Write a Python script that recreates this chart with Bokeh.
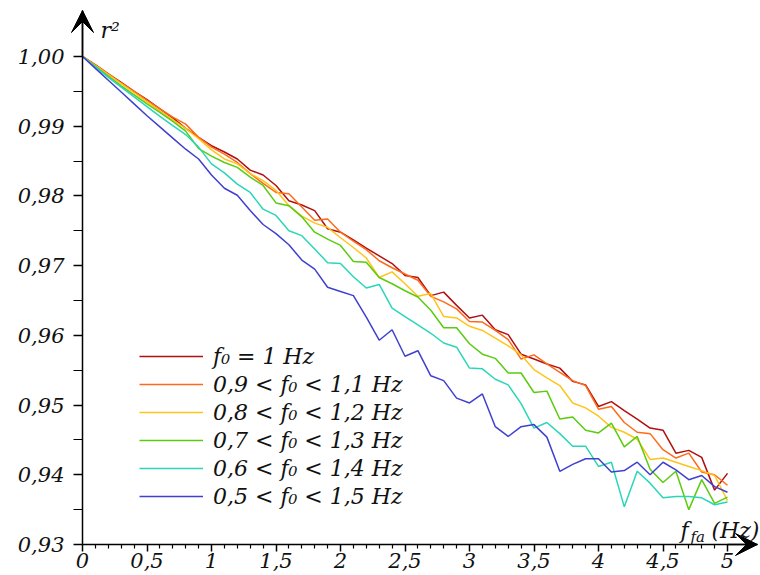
from bokeh.plotting import figure
from bokeh.models import (LinearAxis, FixedTicker, CustomJSTickFormatter, Arrow, VeeHead,
                          Label, Legend, LegendItem, Range1d)
from bokeh.embed import file_html
from bokeh.resources import INLINE

# ---------------- data ----------------
f_fa = [0.0, 0.1, 0.2, 0.3, 0.4, 0.5, 0.6, 0.7, 0.8, 0.9,
        1.0, 1.1, 1.2, 1.3, 1.4, 1.5, 1.6, 1.7, 1.8, 1.9,
        2.0, 2.1, 2.2, 2.3, 2.4, 2.5, 2.6, 2.7, 2.8, 2.9,
        3.0, 3.1, 3.2, 3.3, 3.4, 3.5, 3.6, 3.7, 3.8, 3.9,
        4.0, 4.1, 4.2, 4.3, 4.4, 4.5, 4.6, 4.7, 4.8, 4.9, 5.0]

r2_f1 = [1.0000, 0.9988, 0.9975, 0.9963, 0.9950, 0.9938, 0.9925, 0.9912, 0.9897, 0.9884,
         0.9872, 0.9863, 0.9853, 0.9837, 0.9830, 0.9815, 0.9793, 0.9787, 0.9779, 0.9753,
         0.9748, 0.9737, 0.9725, 0.9714, 0.9703, 0.9686, 0.9683, 0.9657, 0.9662, 0.9643,
         0.9625, 0.9629, 0.9608, 0.9601, 0.9573, 0.9566, 0.9559, 0.9553, 0.9534, 0.9529,
         0.9498, 0.9505, 0.9492, 0.9480, 0.9467, 0.9464, 0.9431, 0.9435, 0.9425, 0.9378, 0.9402]

r2_09_11 = [1.0000, 0.9988, 0.9975, 0.9962, 0.9950, 0.9937, 0.9925, 0.9913, 0.9903, 0.9884,
            0.9870, 0.9860, 0.9848, 0.9832, 0.9818, 0.9805, 0.9803, 0.9784, 0.9765, 0.9767,
            0.9748, 0.9735, 0.9723, 0.9707, 0.9697, 0.9688, 0.9679, 0.9656, 0.9648, 0.9638,
            0.9620, 0.9619, 0.9607, 0.9594, 0.9566, 0.9572, 0.9559, 0.9547, 0.9535, 0.9528,
            0.9494, 0.9498, 0.9475, 0.9461, 0.9459, 0.9436, 0.9424, 0.9431, 0.9404, 0.9400, 0.9385]

r2_08_12 = [1.0000, 0.9987, 0.9974, 0.9961, 0.9948, 0.9935, 0.9922, 0.9909, 0.9897, 0.9882,
            0.9866, 0.9853, 0.9846, 0.9832, 0.9822, 0.9808, 0.9786, 0.9771, 0.9761, 0.9755,
            0.9740, 0.9726, 0.9711, 0.9683, 0.9691, 0.9674, 0.9656, 0.9660, 0.9627, 0.9625,
            0.9613, 0.9607, 0.9596, 0.9585, 0.9572, 0.9551, 0.9539, 0.9528, 0.9503, 0.9496,
            0.9484, 0.9468, 0.9461, 0.9451, 0.9422, 0.9424, 0.9418, 0.9412, 0.9406, 0.9399, 0.9363]

r2_07_13 = [1.0000, 0.9986, 0.9972, 0.9958, 0.9945, 0.9932, 0.9920, 0.9907, 0.9893, 0.9868,
            0.9857, 0.9848, 0.9841, 0.9827, 0.9815, 0.9790, 0.9786, 0.9770, 0.9748, 0.9738,
            0.9729, 0.9706, 0.9705, 0.9683, 0.9674, 0.9664, 0.9655, 0.9636, 0.9611, 0.9611,
            0.9588, 0.9573, 0.9567, 0.9546, 0.9546, 0.9518, 0.9520, 0.9480, 0.9483, 0.9464,
            0.9460, 0.9474, 0.9440, 0.9455, 0.9408, 0.9389, 0.9405, 0.9350, 0.9393, 0.9359, 0.9368]

r2_06_14 = [1.0000, 0.9985, 0.9970, 0.9956, 0.9942, 0.9928, 0.9914, 0.9901, 0.9888, 0.9870,
            0.9846, 0.9833, 0.9817, 0.9805, 0.9781, 0.9772, 0.9750, 0.9743, 0.9724, 0.9704,
            0.9703, 0.9684, 0.9668, 0.9673, 0.9639, 0.9627, 0.9615, 0.9603, 0.9589, 0.9583,
            0.9553, 0.9552, 0.9537, 0.9529, 0.9502, 0.9467, 0.9475, 0.9459, 0.9441, 0.9441,
            0.9412, 0.9418, 0.9354, 0.9405, 0.9388, 0.9367, 0.9369, 0.9369, 0.9367, 0.9357, 0.9361]

r2_05_15 = [1.0000, 0.9983, 0.9966, 0.9949, 0.9932, 0.9915, 0.9899, 0.9883, 0.9867, 0.9853,
            0.9830, 0.9811, 0.9801, 0.9779, 0.9759, 0.9746, 0.9730, 0.9708, 0.9695, 0.9669,
            0.9663, 0.9657, 0.9626, 0.9593, 0.9608, 0.9570, 0.9578, 0.9542, 0.9535, 0.9510,
            0.9503, 0.9516, 0.9469, 0.9455, 0.9469, 0.9472, 0.9454, 0.9405, 0.9415, 0.9423,
            0.9423, 0.9404, 0.9406, 0.9418, 0.9400, 0.9418, 0.9407, 0.9393, 0.9399, 0.9383, 0.9375]

series_labels = ["f\u2080 = 1 Hz",
                 "0,9 < f\u2080 < 1,1 Hz",
                 "0,8 < f\u2080 < 1,2 Hz",
                 "0,7 < f\u2080 < 1,3 Hz",
                 "0,6 < f\u2080 < 1,4 Hz",
                 "0,5 < f\u2080 < 1,5 Hz"]
series_values = [r2_f1, r2_09_11, r2_08_12, r2_07_13, r2_06_14, r2_05_15]
series_colors = ["#b01010", "#ff6a1a", "#ffc41a", "#5acc10", "#2ad6b8", "#4040d0"]

y_ticks = [0.93, 0.94, 0.95, 0.96, 0.97, 0.98, 0.99, 1.00]
y_minor = [0.935, 0.945, 0.955, 0.965, 0.975, 0.985, 0.995]
x_ticks = [0.0, 0.5, 1.0, 1.5, 2.0, 2.5, 3.0, 3.5, 4.0, 4.5, 5.0]
x_minor = [v for v in f_fa if v not in x_ticks]

# ---------------- geometry (canvas pixels) ----------------
W, H = 760, 575
X0_PX = 82          # canvas x of f_fa = 0
PX_PER_X = 129.0
Y1_PX = 56          # canvas y of r2 = 1.00
PX_PER_Y = 6971.4


def dx(px):
    return (px - X0_PX) / PX_PER_X


def dy(py):
    return 1.0 + (Y1_PX - py) / PX_PER_Y


FONT = "DejaVu Serif"

p = figure(width=W, height=H,
           x_range=Range1d(dx(0), dx(W)), y_range=Range1d(dy(H), dy(0)),
           output_backend="svg", toolbar_location=None,
           x_axis_location=None, y_axis_location=None,
           min_border=0, outline_line_color=None,
           background_fill_color="white", border_fill_color="white")
p.xgrid.visible = False
p.ygrid.visible = False

renderers = []
for vals, col in zip(series_values, series_colors):
    r = p.line(f_fa, vals, line_color=col, line_width=1.5)
    renderers.append(r)

x_tip = dx(757)
y_tip = dy(10)

# axes
yaxis = LinearAxis(fixed_location=0.0, bounds=(y_ticks[0], y_tip),
                   ticker=FixedTicker(ticks=y_ticks, minor_ticks=y_minor),
                   formatter=CustomJSTickFormatter(code="return tick.toFixed(2).replace('.', ',')"))
yaxis.major_tick_out = 9
yaxis.major_tick_in = 0
yaxis.minor_tick_out = 9
yaxis.minor_tick_in = 0
yaxis.major_label_standoff = 9
p.add_layout(yaxis, "left")

xaxis = LinearAxis(fixed_location=y_ticks[0], bounds=(0.0, x_tip),
                   ticker=FixedTicker(ticks=x_ticks, minor_ticks=x_minor),
                   formatter=CustomJSTickFormatter(
                       code="return (Math.abs(tick - Math.round(tick)) < 1e-9) ? tick.toFixed(0) : tick.toFixed(1).replace('.', ',')"))
xaxis.major_tick_out = 7
xaxis.major_tick_in = 0
xaxis.minor_tick_out = 4
xaxis.minor_tick_in = 0
xaxis.major_label_standoff = 2
p.add_layout(xaxis, "below")

for ax in (xaxis, yaxis):
    ax.axis_line_color = "black"
    ax.axis_line_width = 1.5
    ax.major_tick_line_color = "black"
    ax.major_tick_line_width = 1.5
    ax.minor_tick_line_color = "black"
    ax.minor_tick_line_width = 1.2
    ax.major_label_text_font = FONT
    ax.major_label_text_font_style = "italic"
    ax.major_label_text_font_size = "21px"
    ax.major_label_text_color = "#111111"

# arrow heads on axes
p.add_layout(Arrow(end=VeeHead(size=22, fill_color="black", line_color="black", line_width=1),
                   x_start=0.0, y_start=y_ticks[-1], x_end=0.0, y_end=y_tip,
                   line_color="black", line_width=1.5))
p.add_layout(Arrow(end=VeeHead(size=22, fill_color="black", line_color="black", line_width=1),
                   x_start=x_ticks[-1], y_start=y_ticks[0], x_end=x_tip, y_end=y_ticks[0],
                   line_color="black", line_width=1.5))

# axis titles
p.add_layout(Label(x=dx(100), y=dy(30), text="r\u00b2", text_font=FONT, text_font_style="italic",
                   text_font_size="22px", text_color="#111111", text_baseline="alphabetic"))
p.add_layout(Label(x=dx(680), y=dy(530), text="f", text_font=FONT, text_font_style="italic",
                   text_font_size="22px", text_color="#111111", text_baseline="alphabetic"))
p.add_layout(Label(x=dx(690), y=dy(536), text="fa", text_font=FONT, text_font_style="italic",
                   text_font_size="15px", text_color="#111111", text_baseline="alphabetic"))
p.add_layout(Label(x=dx(711), y=dy(530), text="(Hz)", text_font=FONT, text_font_style="italic",
                   text_font_size="22px", text_color="#111111", text_baseline="alphabetic"))

# legend
items = [LegendItem(label=lab, renderers=[r]) for lab, r in zip(series_labels, renderers)]
legend = Legend(items=items, location=(139, 65), orientation="vertical",
                glyph_width=64, glyph_height=28, label_height=28, spacing=0,
                label_standoff=10, padding=0, margin=0,
                border_line_alpha=0, background_fill_alpha=0,
                label_text_font=FONT, label_text_font_style="italic",
                label_text_font_size="22px", label_text_color="#111111")
p.add_layout(legend)

open("out.html", "w").write(file_html(p, INLINE))
